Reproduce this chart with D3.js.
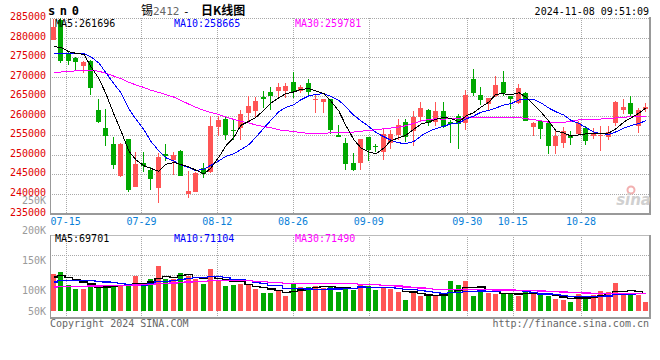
<!DOCTYPE html>
<html>
<head>
<meta charset="utf-8">
<script src="https://cdn.jsdelivr.net/npm/d3@7/dist/d3.min.js"></script>
<style>
  body { margin: 0; background: #fff; }
  svg { display: block; }
  text { font-family: "DejaVu Sans Mono", monospace; }
</style>
</head>
<body>
<svg id="kline" width="660" height="360"></svg>
<script>
// SHFE tin sn2412, daily bars 2024-07-11 .. 2024-11-08
const dates = [
  "07-11","07-12","07-15","07-16","07-17","07-18","07-19","07-22","07-23","07-24","07-25","07-26",
  "07-29","07-30","07-31","08-01","08-02","08-05","08-06","08-07","08-08","08-09",
  "08-12","08-13","08-14","08-15","08-16","08-19","08-20","08-21","08-22","08-23",
  "08-26","08-27","08-28","08-29","08-30","09-02","09-03","09-04","09-05","09-06",
  "09-09","09-10","09-11","09-12","09-13","09-18","09-19","09-20","09-23","09-24","09-25","09-26","09-27",
  "09-30","10-08","10-09","10-10","10-11","10-14",
  "10-15","10-16","10-17","10-18","10-21","10-22","10-23","10-24","10-25",
  "10-28","10-29","10-30","10-31","11-01","11-04","11-05","11-06","11-07","11-08"
];
const opens = [
  279500,284500,276000,274700,272600,274000,261400,256800,252800,244600,254000,241900,
  247900,246000,241500,250300,248700,251100,240000,240600,246600,245700,
  257200,259100,256400,256800,260700,261300,264900,266200,266400,266400,
  268600,266400,268400,264100,263600,264300,255100,253100,247900,247900,
  254500,252200,250800,253000,255100,258500,256000,259600,261500,258500,261200,258500,260000,
  258100,269400,265300,262900,265100,268700,
  265100,263200,265800,257200,258700,258100,252300,253100,255100,
  255400,256800,254700,254900,254500,258100,261500,263200,257500,261600
];
const highs = [
  284700,285000,276300,275100,274000,274300,264200,261700,254500,253100,254100,250800,
  250700,247000,250400,252800,250800,251300,245900,245700,247900,260000,
  260000,259800,259100,261500,265100,264800,266400,267400,268500,268500,
  271200,267900,269400,265300,264300,264300,257600,254300,250400,254000,
  254500,252900,256700,256400,259100,259200,261200,263500,261700,263500,263600,259000,260500,
  266600,272000,267300,264600,270200,271500,
  265100,268000,266200,258500,259000,258100,256000,257100,256200,
  258600,257500,256800,257400,257400,263900,264200,265000,262000,263300
];
const lows = [
  279300,273500,273000,271400,270900,265300,258200,252300,246500,244300,240400,241700,
  245700,241100,237800,248300,244900,244500,238900,240500,244000,245300,
  254900,253800,253800,253800,258500,259400,261900,261500,264200,264500,
  264500,265800,265300,260800,260800,255400,254500,246200,245800,246200,
  248300,250800,248700,251500,253800,253300,252200,258300,257500,257500,256800,253100,251600,
  256300,265000,262700,261100,264700,265000,
  261700,263000,258700,254700,254100,250300,250100,251800,252400,
  255400,252600,254000,250900,253800,257500,260400,260000,255500,261000
];
const closes = [
  282700,273900,274100,273800,273800,267000,258500,254900,247400,252800,240900,247700,
  247200,243900,249400,249700,250000,244600,240800,245300,245100,257400,
  258800,255100,256100,260500,262500,263900,264200,265100,267400,267700,
  266100,267400,266200,264300,264300,256400,254500,247700,246200,254000,
  251300,252100,255400,255400,257700,254500,259800,261900,258100,261200,257200,258000,257900,
  265300,265800,264000,264600,267900,265800,
  264300,267000,258700,258200,256600,252300,254700,256100,254300,
  258100,253600,255400,255200,255800,263400,262300,260500,261500,262200
];
const volumes = [
  93200,95900,80200,75500,75500,82200,78200,80200,80200,80200,79100,90800,
  83400,87300,102600,87300,87300,94700,90800,87300,81400,99100,
  84900,79100,80200,81400,80200,75500,71200,71200,73200,67600,
  82900,78200,78200,79400,77500,79400,72400,78200,75200,81400,
  79400,75200,78200,75500,72400,63400,72400,67600,68500,67300,68500,85300,80200,
  85300,67600,72400,71200,69600,71600,
  69600,67600,72400,69600,68500,67600,63800,63400,60600,
  70500,67600,68500,73500,72400,82900,68500,71600,68500,60600
];
// the 29 sessions before 07-11 are off-screen; they only feed the MAs at the left edge
// (estimated from where the three MA lines enter the panel)
const earlierCloses = [
  269000,269800,269200,269600,266000,267500,269000,270500,271000,269500,
  268000,266500,265500,266000,267500,268500,269500,270000,269000,269300,
  274000,274000,273800,274800,274900,274900,279600,275800,275300
];
const earlierVolumes = [
  74000,76000,73000,77000,75000,78000,74000,72000,76000,79000,
  75000,73000,77000,76000,74000,78000,75000,73000,76000,74000,
  76000,80000,77000,79000,79000,86000,91000,88000,91800
];

const gridDates = ["07-15","07-29","08-12","08-26","09-09","09-30","10-15","10-28"];
const priceTicks = [285000,280000,275000,270000,265000,260000,255000,250000,245000,240000,235000];
const volTicks = [250000,200000,150000,100000,50000];
const maSpans = [5, 10, 30];
const maColors = ["#000000", "#0000ff", "#ff00ff"];
const priceLegend = ["MA5:261696", "MA10:258665", "MA30:259781"];
const volLegend = ["MA5:69701", "MA10:71104", "MA30:71490"];

const RED = "#ff5555", GREEN = "#00a800";

const svg = d3.select("#kline");
const n = dates.length;
const L = 50, R = 650;
const pTop = 18, pBot = 213.5;
const vTop = 235, vBot = 317.5, vBase = 311;

const xb = d3.scaleBand().domain(d3.range(n)).range([L, R]).paddingInner(0.2).paddingOuter(0.1);
const bw = Math.round(xb.bandwidth());
const xl = i => Math.round(xb(i));
const xc = i => xl(i) + bw / 2;
// the date grid is spread over the whole panel width, so it drifts a little against the bars
const xg = d3.scaleLinear().domain([0, n - 1]).range([L + 0.5, R - 0.8]);
const y = d3.scaleLinear().domain([235000, 285000]).range([pBot, pTop]);
const yv = d3.scaleLinear().domain([50000, 150000]).range([vBase, vBase - 85]);
// volume labels keep their own spacing (the lowest one is pushed up into the panel)
const yvLab = d3.scaleLinear().domain([0, 250000]).range([350.7, 200.7]);

function movingAverage(values, earlier, span) {
  const all = earlier.concat(values);
  const k = earlier.length;
  return values.map((_, i) => d3.mean(all.slice(k + i - span + 1, k + i + 1)));
}

const crisp = v => Math.round(v) + 0.5;

// ---- grids
const grid = svg.append("g")
  .attr("stroke", "#a8a8a8")
  .attr("stroke-dasharray", "1,1")
  .attr("shape-rendering", "crispEdges");

grid.selectAll("line.h")
  .data(priceTicks.slice(0, -1))
  .join("line")
  .attr("x1", L).attr("x2", R - 1)
  .attr("y1", d => crisp(y(d))).attr("y2", d => crisp(y(d)));

grid.selectAll("line.vh")
  .data([vTop + 20, vTop + 40])
  .join("line")
  .attr("x1", L).attr("x2", R - 1)
  .attr("y1", d => d + 0.5).attr("y2", d => d + 0.5);

const gridIdx = gridDates.map(d => dates.indexOf(d));
gridIdx.forEach(i => {
  grid.append("line")
    .attr("x1", crisp(xg(i))).attr("x2", crisp(xg(i)))
    .attr("y1", pTop).attr("y2", pBot);
  grid.append("line")
    .attr("x1", crisp(xg(i))).attr("x2", crisp(xg(i)))
    .attr("y1", vTop).attr("y2", vBot);
});

// ---- panel frames
const frame = svg.append("g").attr("stroke", "#999").attr("fill", "none").attr("shape-rendering", "crispEdges");
frame.append("line").attr("x1", L + 0.5).attr("x2", L + 0.5).attr("y1", pTop).attr("y2", pBot + 1);
frame.append("line").attr("x1", L).attr("x2", R).attr("y1", pBot).attr("y2", pBot).attr("stroke-width", 2);
frame.append("line").attr("x1", R - 0.5).attr("x2", R - 0.5).attr("y1", pTop - 1).attr("y2", pBot + 1).attr("stroke-width", 2);
frame.append("line").attr("x1", L).attr("x2", R).attr("y1", vTop + 0.5).attr("y2", vTop + 0.5).attr("stroke", "#bbb");
frame.append("line").attr("x1", L + 0.5).attr("x2", L + 0.5).attr("y1", vTop).attr("y2", vBot);
frame.append("line").attr("x1", L).attr("x2", R).attr("y1", vBot).attr("y2", vBot).attr("stroke-width", 2);
frame.append("line").attr("x1", R - 0.5).attr("x2", R - 0.5).attr("y1", vTop).attr("y2", vBot + 1).attr("stroke-width", 2);

// ---- candles
const isUp = i => closes[i] >= opens[i];
const candles = svg.append("g").attr("shape-rendering", "crispEdges")
  .selectAll("g")
  .data(d3.range(n))
  .join("g")
  .attr("fill", i => isUp(i) ? RED : GREEN);

candles.append("rect")
  .attr("x", i => xl(i) + 2)
  .attr("width", 1)
  .attr("y", i => Math.round(y(highs[i])))
  .attr("height", i => Math.max(1, Math.round(y(lows[i])) - Math.round(y(highs[i]))));

candles.append("rect")
  .attr("x", i => xl(i))
  .attr("width", bw - 1)
  .attr("y", i => Math.round(y(Math.max(opens[i], closes[i]))))
  .attr("height", i => Math.max(1, Math.round(y(Math.min(opens[i], closes[i]))) - Math.round(y(Math.max(opens[i], closes[i])))));

// ---- volume bars
svg.append("g").attr("shape-rendering", "crispEdges")
  .selectAll("rect")
  .data(d3.range(n))
  .join("rect")
  .attr("x", i => xl(i))
  .attr("width", bw - 1)
  .attr("y", i => Math.round(yv(volumes[i])))
  .attr("height", i => vBase - Math.round(yv(volumes[i])))
  .attr("fill", i => isUp(i) ? RED : GREEN);

// ---- moving averages (drawn aliased, like the original bitmap)
const priceLine = d3.line().x((d, i) => xc(i)).y(d => y(d));
const volLine = d3.line().x((d, i) => xc(i)).y(d => yv(d)).curve(d3.curveStep);

maSpans.forEach((span, k) => {
  svg.append("path")
    .attr("d", volLine(movingAverage(volumes, earlierVolumes, span)))
    .attr("fill", "none").attr("stroke", maColors[k]).attr("stroke-width", 1.2)
    .attr("shape-rendering", "crispEdges");
});
maSpans.slice().reverse().forEach((span, r) => {
  const k = maSpans.length - 1 - r;
  svg.append("path")
    .attr("d", priceLine(movingAverage(closes, earlierCloses, span)))
    .attr("fill", "none").attr("stroke", maColors[k]).attr("stroke-width", 1)
    .attr("shape-rendering", "crispEdges");
});

// ---- axis labels
svg.append("g").selectAll("text")
  .data(priceTicks)
  .join("text")
  .attr("x", 46).attr("y", d => y(d) + 2)
  .attr("text-anchor", "end").attr("font-size", 10).attr("fill", "#e00000")
  .text(d => d);

svg.append("g").selectAll("text")
  .data(volTicks)
  .join("text")
  .attr("x", 46).attr("y", d => Math.min(yvLab(d), vBase) + 3.5)
  .attr("text-anchor", "end").attr("font-size", 10).attr("fill", "#9a9a9a")
  .text(d => (d / 1000) + "K");

svg.append("g").selectAll("text")
  .data(gridIdx)
  .join("text")
  .attr("x", i => xg(i)).attr("y", 225)
  .attr("text-anchor", "middle").attr("font-size", 10).attr("fill", "#0a7fd8")
  .text(i => dates[i]);

// ---- legends
const legendX = [55, 174, 295];
priceLegend.forEach((t, k) => svg.append("text").attr("x", legendX[k]).attr("y", 27)
  .attr("font-size", 10).attr("fill", maColors[k]).text(t));
volLegend.forEach((t, k) => svg.append("text").attr("x", legendX[k]).attr("y", 242)
  .attr("font-size", 10).attr("fill", maColors[k]).text(t));

// ---- titles and footer
svg.append("text").attr("x", 48).attr("y", 15).attr("font-size", 12).attr("font-weight", "bold")
  .attr("letter-spacing", 4.6).text("sn0");
svg.append("text").attr("x", 141).attr("y", 15).attr("font-size", 12)
  .style("font-family", "'Noto Sans CJK SC'").text("锡");
svg.append("text").attr("x", 153).attr("y", 15).attr("font-size", 11).attr("fill", "#666").text("2412");
svg.append("text").attr("x", 183).attr("y", 15).attr("font-size", 11).text("-");
svg.append("text").attr("x", 201).attr("y", 15).attr("font-size", 12)
  .style("font-family", "'Noto Sans CJK SC'").attr("font-weight", "bold").text("日K线图");
svg.append("text").attr("x", 649).attr("y", 15).attr("text-anchor", "end").attr("font-size", 10)
  .text("2024-11-08 09:51:09");

svg.append("text").attr("x", 50).attr("y", 327).attr("font-size", 10).attr("fill", "#666")
  .text("Copyright 2024 SINA.COM");
svg.append("text").attr("x", 649).attr("y", 327).attr("text-anchor", "end").attr("font-size", 10)
  .attr("fill", "#666").text("http://finance.sina.com.cn");

// faint sina watermark
svg.append("circle").attr("cx", 631).attr("cy", 190).attr("r", 3.5)
  .attr("fill", "none").attr("stroke", "#f2b0b0").attr("stroke-width", 2);
svg.append("text").attr("x", 651).attr("y", 205).attr("text-anchor", "end")
  .attr("font-size", 15).attr("font-weight", "bold").attr("font-style", "italic")
  .style("font-family", "'DejaVu Sans'").attr("fill", "#d0d0d0").text("sina");
</script>
</body>
</html>
